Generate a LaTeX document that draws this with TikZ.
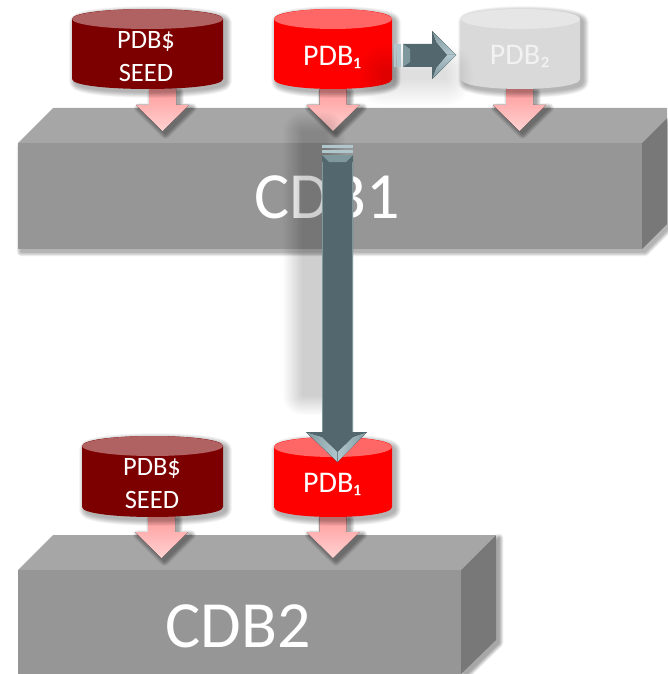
\documentclass[tikz,border=0pt]{standalone}
\usepackage{fontspec}
\setmainfont{Carlito}
\definecolor{boxtop}{HTML}{A6A6A6}
\definecolor{boxfront}{HTML}{969696}
\definecolor{boxside}{HTML}{787878}
\definecolor{redbody}{HTML}{FF0000}
\definecolor{redtop}{HTML}{FF6666}
\definecolor{seedbody}{HTML}{7C0000}
\definecolor{seedtop}{HTML}{B06262}
\definecolor{greybody}{HTML}{D9D9D9}
\definecolor{greytop}{HTML}{E6E6E6}
\definecolor{steel}{HTML}{53686E}
\definecolor{steellight}{HTML}{B0C8CD}
\definecolor{steelmid}{HTML}{7F989E}
\definecolor{pinktop}{HTML}{FF9C9C}
\definecolor{pinklow}{HTML}{FFD2D2}
% soft shadow: W = widest stroke, #2 = opacity of each of 16 layers, #3 = path
\newcommand{\softsh}[3]{\foreach \w in {1,...,16}{%
  \begin{scope}[transparency group,opacity=#2]
  \path[fill=black,draw=black,line join=round,line width=\w*#1/16*1pt] #3;
  \end{scope}}}
\newcommand{\cylpath}[4]{(#1,#3+10) -- (#1,#4-10) .. controls (#1,#4+3.3) and (#2,#4+3.3) .. (#2,#4-10) -- (#2,#3+10) .. controls (#2,#3-3.3) and (#1,#3-3.3) .. cycle}
\newcommand{\cyl}[6]{% x1,x2,ytop,ybottom,body,top
  \softsh{12}{0.019}{[shift={(3,3)}] \cylpath{#1}{#2}{#3}{#4}}
  \fill[#5] \cylpath{#1}{#2}{#3}{#4};
  \fill[#6] ({(#1+#2)/2},#3+10) ellipse [x radius={(#2-#1)/2},y radius=10];}
\newcommand{\arrowpath}[2]{(#1-13.5,#2) -- (#1+13.5,#2) -- (#1+13.5,#2+16) -- (#1+26.5,#2+16) -- (#1,#2+42) -- (#1-26.5,#2+16) -- (#1-13.5,#2+16) -- cycle}
\newcommand{\pinkarrow}[2]{% centre x, top y
  \softsh{10}{0.022}{[shift={(3,3)}] \arrowpath{#1}{#2}}
  \fill[top color=pinktop,bottom color=pinklow] \arrowpath{#1}{#2};}
\begin{document}
\begin{tikzpicture}[x=1pt,y=-1pt,
  big/.style={text=white,font=\fontsize{66}{66}\selectfont,inner sep=0pt},
  midlabel/.style={text=white,font=\fontsize{30}{30}\selectfont,inner sep=0pt},
  seedlabel/.style={text=white,font=\fontsize{26.5}{33}\selectfont,align=center,inner sep=0pt}]
\clip (0,0) rectangle (667,674);
\fill[white] (0,0) rectangle (667,674);
% CDB1 box
\softsh{9}{0.02}{[shift={(3,3)}] (18,143) -- (642,143) -- (667,118) -- (667,224) -- (642,249) -- (18,249) -- cycle}
\fill[boxtop] (18,143) -- (53,108) -- (667,108) -- (667,118) -- (642,143) -- cycle;
\fill[boxfront] (18,143) rectangle (642,249);
\fill[boxside] (642,143) -- (667,118) -- (667,224) -- (642,249) -- cycle;
% CDB2 box
\softsh{9}{0.024}{[shift={(3,3)}] (461,570) -- (496,535) -- (496,640) -- (461,674) -- cycle}
\fill[boxtop] (18,570) -- (53,535) -- (496,535) -- (461,570) -- cycle;
\fill[boxfront] (18,570) rectangle (461,674);
\fill[boxside] (461,570) -- (496,535) -- (496,640) -- (461,674) -- cycle;
% pink arrows
\pinkarrow{162.5}{89}
\pinkarrow{333}{89}
\pinkarrow{519.5}{89}
\pinkarrow{161.5}{516}
\pinkarrow{333}{516}
% cylinders
\cyl{72}{223}{9}{89}{seedbody}{seedtop}
\cyl{274}{392}{9}{89}{redbody}{redtop}
\cyl{461}{580}{9}{89}{greybody}{greytop}
\cyl{82}{223}{436}{517}{seedbody}{seedtop}
\cyl{274}{392}{437}{517}{redbody}{redtop}
% labels
\node[big] (cdbone) at (327,197) {CDB1};
\node[big] (cdbtwo) at (238,626) {CDB2};
\node[seedlabel] (seedone) at (146,57) {PDB\$\\SEED};
\node[midlabel] (pdbone) at (332,57) {PDB₁};
\node[midlabel,text=white!95!black] (pdbtwo) at (520,56) {PDB₂};
\node[seedlabel] (seedtwo) at (152,484) {PDB\$\\SEED};
\node[midlabel] (pdbthree) at (332,484) {PDB₁};
% soft shadows of the steel arrows
\softsh{56}{0.0065}{(385,72) rectangle (445,78)}
\softsh{40}{0.013}{(303,132) rectangle (325,395)}
% horizontal steel arrow
\fill[steellight] (394,44) rectangle (396,67);
\fill[steellight] (397,44) rectangle (401,67);
\fill[steel] (403,44) -- (432,44) -- (432,31) -- (456,55) -- (432,79) -- (432,67) -- (403,67) -- cycle;
\fill[steelmid] (403,44) -- (410,49) -- (410,62) -- (403,67) -- cycle;
\fill[top color=steelmid,bottom color=steellight] (432,31) -- (456,55) -- (447,55) -- (436,42) -- cycle;
\fill[top color=steellight,bottom color=steelmid] (432,79) -- (456,55) -- (447,55) -- (436,68) -- cycle;
% vertical steel arrow
\fill[steellight] (322,145) rectangle (353,148);
\fill[steellight] (322,149.5) rectangle (353,153);
\fill[steel] (322,155) -- (353,155) -- (353,432) -- (367,432) -- (337.5,462) -- (306,432) -- (322,432) -- cycle;
\fill[steelmid] (322,155) -- (353,155) -- (346,162) -- (329,162) -- cycle;
\fill[steelmid] (322,162) rectangle (323,432);
\fill[steelmid] (352,162) rectangle (353,432);
\fill[left color=steelmid,right color=steellight] (306,432) -- (337.5,462) -- (337.5,452) -- (322,437) -- cycle;
\fill[left color=steellight,right color=steelmid] (367,432) -- (337.5,462) -- (337.5,452) -- (353,437) -- cycle;
\end{tikzpicture}
\end{document}
